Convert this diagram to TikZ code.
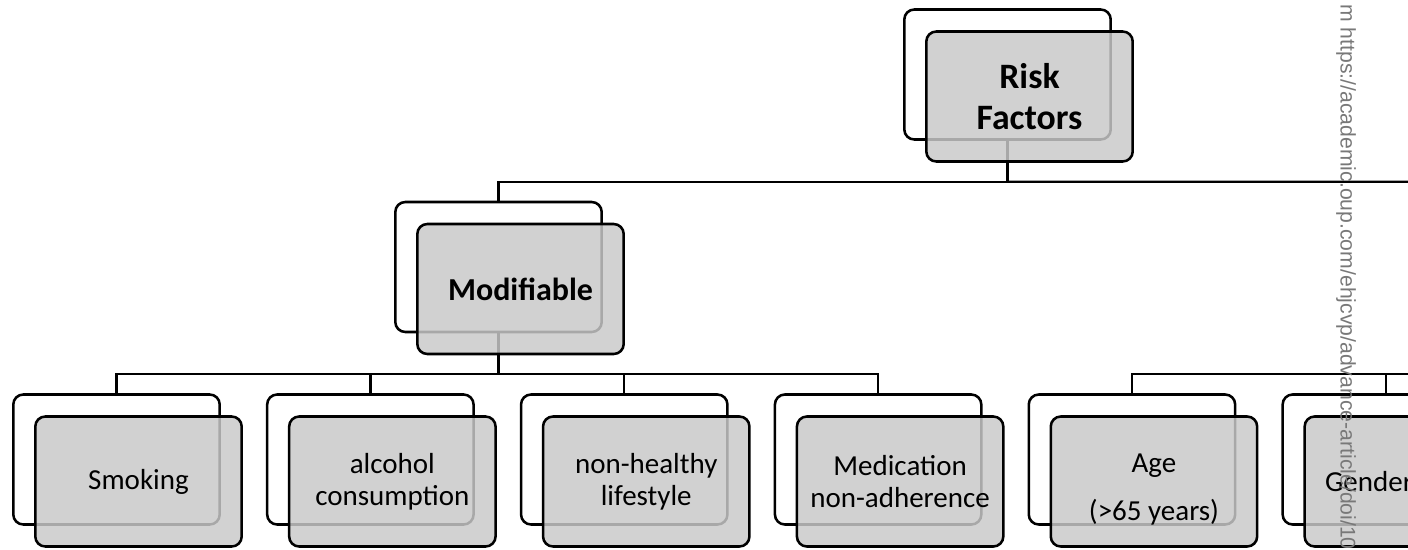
\documentclass[tikz,border=0pt]{standalone}
\usepackage{fontspec}
\setmainfont{Carlito}
\newfontfamily\wmfont{Liberation Sans}
\usetikzlibrary{backgrounds,positioning}
\definecolor{boxgray}{rgb}{0.79,0.79,0.79}
\definecolor{wmgray}{rgb}{0.47,0.47,0.47}
\tikzset{
  back/.style={
    rounded corners=7.5pt,
    draw=black,
    line width=1.9pt,
    fill=white,
    minimum width=154.8pt,
    minimum height=97.5pt,
    inner sep=0pt
  },
  front/.style={
    back,
    fill=boxgray,
    fill opacity=0.84,
    text opacity=1,
    align=center,
    xshift=16.5pt,
    yshift=-16.5pt,
    font=\fontsize{21.75}{23.8}\selectfont
  },
  head/.style={
    front,
    font=\bfseries\fontsize{26.8}{30.75}\selectfont
  },
  link/.style={
    line width=1.7pt,
    black
  }
}

\begin{document}
\begin{tikzpicture}[x=0.75pt,y=-0.75pt,node distance=33.7pt]
\useasboundingbox (0,0) rectangle (1408,549);
\clip (0,0) rectangle (1408,549);
% top levels
\node[back] (risk) at (1007.5,74.5) {};
\node[head] (riskf) at (risk) {Risk\\Factors};
\node[back] (modif) at (498.5,267) {};
\node[head,font=\bfseries\fontsize{24}{28}\selectfont] (modiff) at (modif) {Modifiable};
% bottom row
\node[back] (smok) at (116.5,459.5) {};
\node[back,right=of smok] (alco) {};
\node[back,right=of alco] (life) {};
\node[back,right=of life] (medi) {};
\node[back,right=of medi] (age) {};
\node[back,right=of age] (gend) {};
\node[front] (smokf) at (smok) {Smoking};
\node[front] (alcof) at (alco) {alcohol\\consumption};
\node[front] (lifef) at (life) {non-healthy\\lifestyle};
\node[front] (medif) at (medi) {Medication\\non-adherence};
\node[front] (agef) at (age) {\rule{0pt}{26pt}Age\\[11.5pt](>65 years)};
\node[front,text width=124pt,align=left] (gendf) at (gend) {Gender};
\coordinate (nonmod) at (1410,181.75);
\coordinate (nmj) at (1410,374.25);
% connectors
\begin{scope}[on background layer]
\draw[link] (risk.south) -- ++(0,41) coordinate (rj) -| (modif.north);
\draw[link] (rj) -- (nonmod);
\draw[link] (modif.south) -- ++(0,41) coordinate (mj) -| (smok.north);
\foreach \n in {alco,life,medi}
  \draw[link] (mj) -| (\n.north);
\draw[link] (nmj) -| (age.north);
\draw[link] (nmj) -| (gend.north);
\end{scope}
% watermark
\node[rotate=-90,anchor=west,inner sep=0pt,text=wmgray,font=\wmfont\fontsize{15.9}{18}\selectfont] (wm) at (1346,4) {m https://academic.oup.com/ehjcvp/advance-article/doi/10};
\end{tikzpicture}
\end{document}
